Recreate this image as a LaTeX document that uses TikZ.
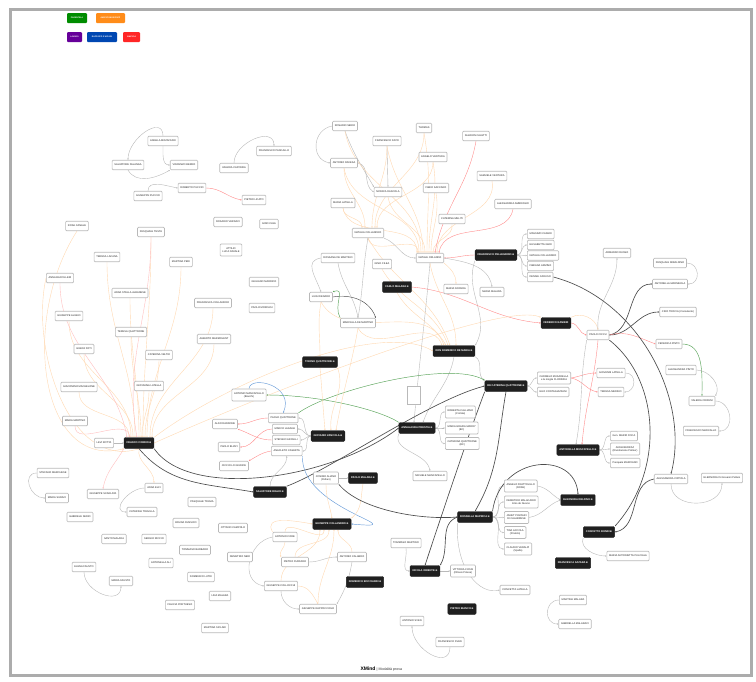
\documentclass[tikz,border=0pt]{standalone}
\usepackage{fontspec}
\setmainfont{Liberation Sans}
\newfontfamily\djv{DejaVu Sans}
\usetikzlibrary{arrows.meta,backgrounds}
\newcommand{\ic}{\,{\djv ⊕}}
\begin{document}
\begin{tikzpicture}[x=1pt,y=-1pt,
 nb/.style={draw=gray!55, fill=white, rounded corners=1pt, line width=0.65pt, inner xsep=2.3pt, inner ysep=1pt, minimum height=9.5pt, font=\fontsize{2.55}{2.9}\selectfont, align=center, text=black!85},
 nbb/.style={nb, minimum height=12pt},
 nd/.style={draw=black!88, fill=black!88, text=white, rounded corners=1.2pt, inner xsep=2.5pt, inner ysep=1pt, minimum height=11pt, font=\fontsize{2.6}{3}\selectfont\bfseries},
 legend/.style={text=white, rounded corners=1pt, minimum height=10pt, inner xsep=1pt, font=\fontsize{2}{2.4}\selectfont\bfseries},
 arr/.style={-{Stealth[length=1.6pt,width=1.4pt]}},
 eg/.style={arr, draw=gray!55, line width=0.4pt},
 eo/.style={arr, draw=orange!30, line width=0.4pt},
 er/.style={arr, draw=red!45, line width=0.4pt},
 egr/.style={arr, draw=green!45!black!65, line width=0.45pt},
 etl/.style={arr, draw=cyan!55!blue!60, line width=0.45pt},
 ebl/.style={arr, draw=black!70, line width=0.65pt},
]
\useasboundingbox (0,0) rectangle (756,681);

% legend
\node[legend, fill=green!55!black, minimum width=20pt] (lg1) at (77,18) {PARENTELA};
\node[legend, fill=orange!90, minimum width=29pt] (lg2) at (110.5,18) {AMICI/CONOSCENTI};
\node[legend, fill=violet!80!blue, minimum width=15pt] (lg3) at (74.5,37) {LAVORO};
\node[legend, fill=blue!60!cyan!70!black, minimum width=30pt] (lg4) at (102,37) {RAPPORTI D'AFFARI};
\node[legend, fill=red!85, minimum width=17pt] (lg5) at (131.5,37) {AMICIZIA};

% top-left
\node[nb] (moz) at (163,141) {ANGELA MOZAFFARI};
\node[nb] (fal) at (128,165) {SALVATORE FALANGA};
\node[nb] (ber) at (184,165) {VINCENZO BERRO};
\node[nb] (rpu) at (192,188) {ROBERTO PUCCIO};
\node[nb] (gpu) at (148,196) {GIUSEPPE PUCCIO};
\node[nb] (pan) at (274,151) {FRANCESCO PANCALLO};
\node[nb] (cap) at (234,168) {VALERIA CAPONDA};
\node[nb] (lic) at (254,200) {PIETRO LICATO};
\node[nb] (ver) at (228,222) {ROSARIO VERDACI};
\node[nb] (cle) at (269,224) {GINO CLEA};
\node[nbb] (nav) at (231,250) {ATTILIO\\LUCA NAVALE};
\node[nb] (mar) at (264,282) {GIULIANO MARRICO};
\node[nb] (fco) at (213,303) {FRANCESCA COLLANDRO};
\node[nb] (mor) at (262,308) {PAOLO MORCASI};
\node[nb] (alb) at (214,339) {ALBERTO MARMOLENT};

% top-center
\node[nb] (ser) at (345,126) {ROSARIO SERIO};
\node[nb] (dat) at (387,141) {FRANCESCO DATO};
\node[nb] (rav) at (344,163) {ANTONIO RAVESA};
\node[nb] (lat) at (343,203) {MARIA LATELLA};
\node[nb] (das) at (388,192) {MONICA DASCOLA};
\node[nb] (tho) at (424,128) {THOMAS};
\node[nb] (ave) at (433,157) {ANGELO VENTURA};
\node[nb] (sha) at (476,136) {SHARON CALETTI};
\node[nb] (sac) at (436,188) {FABIO SACCARO};
\node[nb] (sve) at (492,176) {SAMUELE VENTURA};
\node[nb] (amb) at (513,204) {ALESSANDRA AMBROGIO};
\node[nb] (mel) at (452,219) {CATERINA MELITI};
\node[nb] (nco) at (368,233) {NATALIA COLLANDRO};
\node[nb] (nat) at (430,258) {NATALE ORLANDO};
\node[nb] (cil) at (382,264) {GINO CILEA};
\node[nb] (ros) at (338,258) {ROSSANA DE MARTINO};
\node[nb] (den) at (321,297) {LUIGI DENARO};
\node[nb] (mdm) at (358,323) {MARCELLA DE MARTINO};
\node[nd] (pel) at (496,255) {FRANCESCO PELLEGRINO\ic};
\node[nb, anchor=west] (l1) at (527,234) {MASSIMO CASERI};
\node[nb, anchor=west] (l2) at (527,245) {ELISABETTA GERI};
\node[nb, anchor=west] (l3) at (527,255.5) {NATALIA COLLANDRO};
\node[nb, anchor=west] (l4) at (527,266) {FABIANA ARMINO};
\node[nb, anchor=west] (l5) at (527,277) {DENISE CARUSO};
\node[nd] (mal) at (397,287) {CARLO MALARA\ic};
\node[nb] (noc) at (456,289) {MARIA NOCERA};
\node[nb] (mma) at (492,292) {MARIA MALARA};
\node[nd] (ran) at (556,323) {FEDERICO RANIERI};
\node[nd] (dom) at (454,351) {DON DOMENICO DE MARIA\ic};
\node[nd] (ton) at (320,362) {TONINO QUATTRONE\ic};
\node[nb, minimum width=13pt, minimum height=18pt, rounded corners=0pt] (emp) at (414,395) {};
\node[nd] (dcq) at (506,386) {DE CATERINA QUATTRONE\ic};
\node[nbb, anchor=west] (cmu) at (537,378) {CARMELO MUSARELLA\\e la moglie FLORINDA};
\node[nb, anchor=west] (eco) at (537,392) {ELIO CONTAGIAZZANI};
\node[nd] (ann) at (417,428) {ANNALAURA PRESTIA\ic};
\node[nbb, anchor=west] (a1) at (445,412) {ROBERTA CALLIANO\\(Cortale)};
\node[nbb, anchor=west] (a2) at (445,428) {MARIA GRAZIA MARRY\\(BC)};
\node[nbb, anchor=west] (a3) at (445,443.5) {CATERINA QUATTRONE\\(BC)};
\node[nd] (mus) at (578,450) {ANTONELLA MUSCATELLO\ic};
\node[nb, anchor=west] (m1) at (610,436) {Gen. MARIO FOCA};
\node[nbb, anchor=west] (m2) at (610,449) {ANNA BERRAZ\\(Rivisitazione Palmer)};
\node[nb, anchor=west] (m3) at (610,463) {Pasquale MARCIANO};

% right
\node[nb] (rus) at (617,253) {ARMANDO RUSSO};
\node[nb] (mir) at (670,263) {PASQUALE MIRALDINO};
\node[nb] (mrm) at (670,284) {ANTONELLA MARMEOLA};
\node[nb] (tro) at (678,312) {CIRO TROCIA (Consulente)};
\node[nb] (cic) at (598,335) {PAOLO CICCU};
\node[nb] (fpi) at (669,344) {FEDERICA PINTO};
\node[nb] (api) at (681,370) {ALESSANDRA PINTO};
\node[nb] (gla) at (611,373) {GIOVANNI LATELLA};
\node[nb] (mer) at (611,392) {TERESA MERINO};
\node[nb] (cri) at (702,401) {VALERIA CRIPANI};
\node[nb] (mrc) at (701,431) {FRANCESCO MARCALLO};
\node[nb] (cip) at (671,479) {ALESSANDRA CIPPOLA};
\node[nb] (ele) at (722,478) {ELEONORA Di Giovanni Pellaro};
\node[nd] (del) at (578,500) {ELEONORA DELFINO\ic};
\node[nd] (ron) at (599,532) {CONCETTO RONDI\ic};
\node[nb] (pul) at (628,556) {MARIA ANTONIETTA PULCIALA};
\node[nd] (azz) at (573,563) {FRANCESCA AZZARA\ic};
\node[nb] (mtm) at (573,600) {MARTINA MALARA};
\node[nb] (mlc) at (575,624) {GABRIELLA MALARACI};

% left
\node[nb] (can) at (77,226) {ROSA CANALE};
\node[nb] (tes) at (151,232) {PASQUALE TESTA};
\node[nb] (lac) at (107,257) {TERESA LACANA};
\node[nb] (per) at (181,262) {MARTINA PERI};
\node[nb] (bac) at (60,278) {ANNA BACCILLERI};
\node[nb] (alo) at (130,293) {ANNA STELLA ALBANESE};
\node[nb] (ali) at (69,316) {GIUSEPPE ALIANO};
\node[nb] (tqu) at (131,332) {TERESA QUATTRONE};
\node[nb] (fot) at (84,349) {GIANNI FOTI};
\node[nb] (vel) at (159,355) {CATERINA VELTRI};
\node[nb] (mac) at (79,387) {GIACOMINO MACHELONE};
\node[nb] (gio) at (149,386) {GIOVANNA LATELLA};
\node[nb] (mmt) at (75,421) {MARIA MARTINO};
\node[nb] (rot) at (104,443) {LEVI ROTTA};
\node[nd] (cor) at (139,443) {FRANCO CORDIO\ic};

% mid-left
\node[nbb] (man) at (249,395) {ANTONIO MANCAPELLO\\(Bianchi)};
\node[nb, anchor=west] (z1) at (268,418) {PAOLO QUATTRONE};
\node[nb, anchor=west] (z2) at (272,429) {MARCO LAGANA};
\node[nb, anchor=west] (z3) at (272,440) {STEFANO ARCELLI};
\node[nb, anchor=west] (z4) at (271,451) {ANACLETO CASERTA};
\node[nd] (zan) at (328,436) {GIOVANNI ZANCOLA\ic};
\node[nb] (ald) at (225,424) {ALDO RANDONE};
\node[nb] (bli) at (229,447) {PAOLO BLIZZI};
\node[nb] (giu) at (234,466) {CICCIO LO GIUDICE};
\node[nd] (dig) at (270,492) {SALVATORE DIGLIO\ic};
\node[nbb] (cos) at (326,478) {COSIMO ALIANO\\(Pellaro)};
\node[nd] (pma) at (363,478) {PAOLO MALARA\ic};
\node[nb] (tra) at (202,502) {PASQUALE TRAVIA};
\node[nd] (gco) at (332,524) {GIUSEPPE COLLANDRO\ic};
\node[nb] (cam) at (233,528) {OTTAVIO CAMPOLO};
\node[nb] (cre) at (285,537) {ANTONIO CORE};
\node[nb] (bru) at (186,523) {BRUNA RUSSICO};
\node[nb] (bar) at (195,550) {TOMMASO BARBARO};
\node[nb] (ner) at (240,557) {DEMETRIO NERI};
\node[nb] (fur) at (295,562) {PIETRO FURFARO};
\node[nb] (cal) at (352,557) {ANTONIO CALABRO};
\node[nd] (boc) at (365,582) {DOMENICO BOCCIARDI\ic};
\node[nb] (col) at (281,586) {GIUSEPPE COLLOCCHI};
\node[nb] (lut) at (201,577) {DOMENICO LUTRI};
\node[nb] (lma) at (220,596) {LINA MALARA};
\node[nb] (rap) at (318,609) {GIUSEPPE RAPPOCCIOLO};
\node[nb] (sic) at (215,628) {MARTINA SICLARI};

% bottom-left
\node[nb] (mch) at (53,473) {STEFANO MARCHESE};
\node[nb] (sur) at (57,498) {MARIA SURACI};
\node[nb] (sca) at (103,494) {GIUSEPPE SCARLATA};
\node[nb] (elc) at (154,488) {ANNA ELCI};
\node[nb] (trv) at (142,512) {CATERINA TRAVILLA};
\node[nb] (ges) at (80,517) {GABRIELE SERIO};
\node[nb] (san) at (114,539) {SANTO MALARA};
\node[nb] (ric) at (154,539) {SERGIO RICCIO};
\node[nb] (aal) at (161,563) {ANTONELLA ALI};
\node[nb] (efa) at (84,567) {ELENA FAUSTO};
\node[nb] (mfa) at (121,581) {MARIA FAUSTO};
\node[nb] (por) at (180,605) {FELICIA PORTUESO};

% bottom-center/right
\node[nb] (mic) at (430,476) {MICHELE MANCAPELLO};
\node[nd] (map) at (475,517) {ROSSELLA MAPRICA\ic};
\node[nbb, anchor=west] (r1) at (504,486) {ANGELO FRATTOLILLO\\(ROSE)};
\node[nbb, anchor=west] (r2) at (504,502) {DEMETRIO MALACARIO\\Emo de Nuorso};
\node[nbb, anchor=west] (r3) at (504,517.5) {JANET POZZARI\\DI CALABRESE};
\node[nbb, anchor=west] (r4) at (504,532.5) {TINA ACCOLA\\(Pratolio)};
\node[nbb, anchor=west] (r5) at (504,549) {CLAUDIO VERALPI\\(Spalla)};
\node[nb] (tma) at (406,543) {TOMMASO MARTINO};
\node[nd] (ori) at (425,571) {NICOLA ORIENTE\ic};
\node[nbb] (vco) at (463,571) {VITTORIA COSSI\\(Ottavio Polese)};
\node[nb] (cla) at (515,590) {CONCETTA LATELLA};
\node[nd] (bia) at (462,609) {PIETRO BIANCO\ic};
\node[nb] (asv) at (412,621) {ANTONIO SVEN};
\node[nb] (fsv) at (450,642) {FRANCESCO SVEN};

\node[font=\fontsize{5}{6}\selectfont\bfseries, inner sep=0pt] (xm) at (368,669) {XMind};
\node[font=\fontsize{3.6}{4}\selectfont, anchor=west, inner sep=0pt, text=black!80] (mp) at (376.5,669.3) {| Modalità prova};

\begin{pgfonlayer}{background}
\fill[white] (0,0) rectangle (756,681);
\draw[gray!65, line width=3pt] (10,9) rectangle (751,675);
% top-left
\draw[eg] (moz.north) to[out=90,in=90,looseness=1.3] (fal.north);
\draw[eg] (moz.south) to[out=-90,in=180] (ber.west);
\draw[eg] (fal.south) to[out=-60,in=-150] (ber.south west);
\draw[eg] (gpu.north) to[out=90,in=170] (rpu.west);
\draw[er] (rpu.east) to[out=0,in=170] (lic.west);
\draw[eg] (cap.north) to[out=90,in=90,looseness=1.2] (pan.north);

% top-center
\draw[eg] (ser.west) to[out=190,in=170,looseness=1.4] (rav.west);
\draw[eg] (ser.south) to[out=-70,in=120] (das.north west);
\draw[eg] (dat.south) -- (das.north);
\draw[eg] (rav.east) to[out=-10,in=150] (das.west);
\foreach \s/\dx in {ser/-9,dat/-7,rav/-11,lat/-13,das/-5,tho/-3,ave/-1,sac/1,mel/3,sve/7,nco/-12}
  \draw[eo] (\s.south) to[out=-80,in=90] ([xshift=\dx pt]nat.north);
\foreach \s/\dx in {sha/5,amb/9}
  \draw[er] (\s.south) to[out=-100,in=80] ([xshift=\dx pt]nat.north);
\foreach \s/\dx in {dat/4,tho/7,ave/9,lat/-6,rav/-3}
  \draw[eo] (\s.south) to[out=-90,in=90] ([xshift=\dx pt]nco.north);
\draw[eg] (nco.south east) to[out=-20,in=180] (nat.west);
\draw[er] (pel.west) to[out=180,in=0] (nat.east);
\draw[eo] (nat.south east) to[out=-40,in=90] (noc.north);
\draw[eg] (nat.east) to[out=-10,in=100] (mma.north);
\draw[eg] (nat.south) to[out=-95,in=85] ([xshift=-3pt]ann.north);
\draw[eg] (ros.west) to[out=190,in=110,looseness=1.3] (den.north);
\draw[eg] (ros.south) to[out=-80,in=100] (mdm.north);
\draw[ebl, line width=0.45pt] (den.east) to[out=10,in=110] (mdm.north east);
\draw[egr] (mdm.north west) to[out=120,in=20,looseness=1.4] (den.north east);
\draw[eg] (mdm.north) to[out=80,in=-100] (nco.south);
\foreach \t in {l1,l2,l3,l4,l5}
  \draw[eg] (pel.east) to[out=0,in=180] (\t.west);
\draw[eg] (pel.south west) to[out=-110,in=60] (dom.north east);
\draw[er] (mal.east) to[out=-5,in=175] (ran.west);
\draw[eo] (mal.south) to[out=-60,in=120] ([xshift=-8pt]dom.north);
\foreach \s/\dx in {mdm/-12,den/-10,nco/-4,cil/-6}
  \draw[eo] (\s.south) to[out=-60,in=110] ([xshift=\dx pt]dom.north);
\draw[eo] (nat.south) to[out=-80,in=90] ([xshift=2pt]dom.north);
\draw[eg] (dom.south east) to[out=-30,in=150] (dcq.north west);
\draw[eg] (dom.south) to[out=-100,in=70] ([xshift=6pt]ann.north);
\draw[eg] (dcq.east) to[out=0,in=180] (cmu.west);
\draw[eg] (dcq.east) to[out=0,in=180] (eco.west);
\foreach \t in {a1,a2,a3}
  \draw[eg] (ann.east) to[out=0,in=180] (\t.west);
\draw[eg] (ann.south west) to[out=-110,in=100] (mic.north);
\draw[er] (cmu.east) to[out=10,in=180] (gla.west);
\draw[er] (cmu.east) to[out=-10,in=170] (mer.west);
\draw[eg] (gla.east) to[out=0,in=0,looseness=1.6] (mer.east);

% right
\draw[eo] (ran.north east) to[out=30,in=100] (cic.north);
\draw[er] (ran.east) to[out=-5,in=170] (cic.west);
\draw[eg] (cic.north) to[out=95,in=-90] (rus.south);
\draw[ebl] (cic.east) to[out=10,in=180] (mrm.west);
\draw[ebl] (cic.east) to[out=0,in=180] (tro.west);
\draw[eg] (mir.east) to[out=0,in=0,looseness=1.6] (mrm.east);
\draw[er] (cic.east) to[out=15,in=160] (fpi.west);
\draw[egr] (fpi.east) to[out=0,in=90] (cri.north);
\draw[eg] (api.east) to[out=0,in=60] (cri.north east);
\draw[eg] (cri.east) to[out=0,in=0,looseness=1.4] (mrc.east);
\draw[er] (cic.south) to[out=-95,in=85] ([xshift=4pt]mus.north);
\draw[eg] (cic.south west) to[out=-100,in=80] ([xshift=-2pt]mus.north);
\foreach \t in {m1,m2,m3}
  \draw[eg] (mus.east) to[out=0,in=180] (\t.west);
\draw[ebl] (l5.east) .. controls (640,300) and (690,400) .. (cip.north);
\draw[ebl] (cic.south east) .. controls (660,380) and (665,470) .. (ron.north east);
\draw[ebl] (cip.west) to[out=190,in=10] (ron.east);
\draw[eg] (cip.south) to[out=-90,in=-90,looseness=1.3] (ele.south);
\draw[eg] (ron.south west) to[out=-110,in=180] (pul.west);
\draw[eg] (mtm.west) to[out=180,in=180,looseness=1.6] (mlc.west);

% Rossella
\foreach \t in {r1,r2,r3,r4,r5}
  \draw[eg] (map.east) to[out=0,in=180] (\t.west);
\draw[ebl] (dcq.south) to[out=-100,in=60] (map.north);
\draw[ebl] (dcq.south west) .. controls (470,430) and (440,520) .. (ori.north);
\draw[ebl] (map.north east) .. controls (500,455) and (575,450) .. (del.north);
\draw[eg] (r1.east) to[out=-10,in=150] (del.west);
\draw[eg] (r3.east) to[out=10,in=200] (del.west);
\draw[ebl] (map.west) to[out=200,in=60] (ori.north east);
\draw[eg] (ori.east) -- (vco.west);
\draw[eg] (tma.south) to[out=-80,in=180] (ori.west);
\draw[eg] (map.south west) .. controls (455,570) and (480,595) .. (cla.west);
\draw[eg] (fsv.south) to[out=-90,in=-90,looseness=1.4] (asv.south);

% left hub
\foreach \s/\dx in {tes/4,lac/-4,per/8,alo/0,ali/-8,tqu/2,fot/-6,vel/6,mac/-10,gio/3,fco/11,alb/13}
  \draw[eo] (\s.south) to[out=-90,in=90] ([xshift=\dx pt]cor.north);
\foreach \s/\dx in {bac/-12,mmt/-9,tes/-2}
  \draw[er, draw=red!25] (\s.south) to[out=-90,in=100] ([xshift=\dx pt]cor.north);
\draw[eo] (can.south) .. controls (20,320) and (40,470) .. (cor.south west);
\draw[eo] (bac.west) .. controls (30,350) and (70,470) .. (cor.south);
\draw[eg] (rot.east) -- (cor.west);
\draw[eo] (cor.north east) .. controls (230,380) and (380,320) .. (dom.west);
\draw[eo] (cor.east) .. controls (250,400) and (500,300) .. (ran.north west);
\draw[ebl] (cor.south east) .. controls (190,500) and (330,480) .. (ann.west);
\draw[ebl] (cor.south) to[out=-50,in=170] (dig.west);
\draw[ebl] (dig.north east) .. controls (330,470) and (430,400) .. (dcq.west);
\draw[eo] (cor.south) to[out=-100,in=90] (elc.north);
\draw[er, draw=red!25] (cor.south west) to[out=-120,in=80] (sca.north);

% mid-left
\draw[egr] (ann.north west) .. controls (380,410) and (320,395) .. (man.east);
\draw[egr] (z1.north east) .. controls (330,390) and (450,360) .. (dcq.north west);
\draw[etl] (man.north) .. controls (250,375) and (295,385) .. (z1.north);
\draw[etl] (z4.south east) .. controls (300,510) and (420,530) .. (gco.east);
\draw[er] (z1.west) to[out=180,in=0] (ald.east);
\draw[er] (z2.west) to[out=180,in=0] (bli.east);
\draw[er] (z3.west) to[out=180,in=-20] (ald.south east);
\draw[er] (z4.west) to[out=190,in=30] (giu.north east);
\foreach \t in {z1,z2,z3,z4}
  \draw[eg] (zan.west) to[out=180,in=0] (\t.east);
\draw[eo] (ton.south) to[out=-85,in=95] ([xshift=-3pt]zan.north);
\draw[eo] (ton.south east) to[out=-70,in=95] ([xshift=3pt]zan.north);
\draw[eo] (den.south) to[out=-100,in=90] (ton.north);
\draw[eo] (mdm.south) to[out=-100,in=80] ([xshift=8pt]zan.north);
\draw[eg] (dig.north) to[out=90,in=-90] (z4.south);
\draw[eg] (cos.east) -- (pma.west);
\draw[eo] (pma.south) to[out=-100,in=40] (gco.north east);
\draw[eo] (cos.south) to[out=-90,in=100] (gco.north);
\draw[ebl] (cos.south east) .. controls (360,510) and (420,520) .. (map.west);

% Collandro cluster
\foreach \s/\dx in {cre/-8,fur/-3,cal/6,col/-12,rap/2}
  \draw[eo] (\s.north) to[out=90,in=-90] ([xshift=\dx pt]gco.south);
\draw[eo] (cre.north west) to[out=120,in=170,looseness=1.2] (gco.west);
\draw[eg] (cre.west) to[out=190,in=170,looseness=1.3] (col.west);
\draw[eo] (cre.south) to[out=-90,in=120] (fur.north west);
\draw[eg] (col.south) to[out=-90,in=180] (rap.west);
\draw[eg] (cal.south) to[out=-100,in=60] (rap.north east);
\draw[eg] (fur.east) to[out=0,in=180] (cal.west);
\draw[eo] (col.east) to[out=0,in=120] (rap.north);

% bottom-left
\draw[eg] (mch.west) to[out=180,in=180,looseness=1.5] (sur.west);
\draw[eg] (elc.west) to[out=180,in=180,looseness=1.4] (trv.west);
\draw[eg] (efa.south) to[out=-90,in=-90,looseness=1.3] (mfa.south);
\end{pgfonlayer}
\end{tikzpicture}
\end{document}
